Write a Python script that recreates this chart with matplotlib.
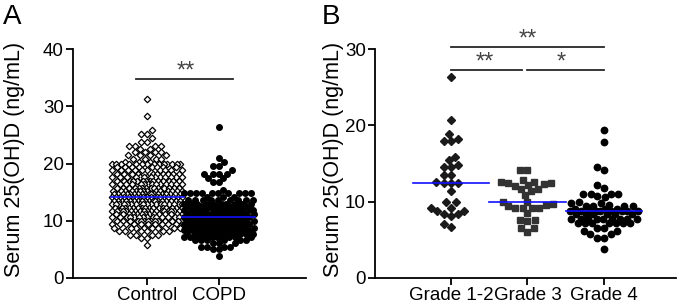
import numpy as np
import matplotlib.pyplot as plt

plt.rcParams['font.family'] = ['Liberation Sans', 'DejaVu Sans']

# panel A: values read row by row (level, number of points)
control_levels = [31.3, 28.3, 25.8, 25.1, 24.4, 23.8, 23.1, 22.6, 22.0, 21.4, 20.8, 20.3,
                  20.0, 19.4, 18.8, 18.2, 17.6, 17.0, 16.4, 15.8, 15.2, 14.6, 14.1, 13.5,
                  12.9, 12.3, 11.7, 11.2, 10.6, 10.0, 9.4, 8.8, 8.2, 7.5, 7.0, 5.8]
control_counts = [1, 1, 1, 2, 1, 2, 4, 2, 4, 4, 4, 3,
                  14, 8, 10, 10, 14, 14, 14, 14, 14, 18, 18, 18,
                  18, 16, 18, 14, 14, 14, 10, 8, 6, 4, 2, 1]
copd_levels = [26.3, 20.9, 20.2, 19.6, 18.8, 18.2, 17.4, 16.7, 15.4, 14.8, 14.2, 13.6,
               12.9, 12.5, 11.9, 11.2, 10.6, 10.0, 9.4, 8.8, 8.3, 7.7, 7.1, 6.6,
               6.1, 5.5, 5.0, 3.85]
copd_counts = [1, 1, 1, 2, 1, 4, 2, 2, 1, 10, 3, 9,
               10, 12, 14, 14, 14, 14, 14, 14, 14, 12, 10, 6,
               3, 4, 2, 1]
groups_a = ['Control', 'COPD']

# panel B
grade12 = [26.3, 20.7, 18.8, 18.2, 17.9, 17.9, 15.8, 15.4, 14.8, 14.5, 14.5, 13.5, 13.5,
           12.6, 12.5, 12.5, 12.4, 11.4, 9.9, 9.9, 9.2, 9.2, 8.8, 8.8, 8.4, 8.4, 8.1,
           7.1, 6.7]
grade3 = [14.2, 14.2, 12.9, 12.6, 12.6, 12.4, 12.4, 12.3, 12.2, 12.0, 11.7, 11.7, 11.4,
          10.9, 10.0, 10.0, 9.7, 9.6, 9.4, 9.2, 9.2, 9.2, 9.2, 8.5, 7.6, 7.6, 7.5,
          6.5, 6.5, 6.0]
grade4 = [19.4, 17.8, 14.6, 14.2, 12.2, 11.8, 11.0, 11.0, 11.0, 11.0, 10.7, 10.6,
          9.9, 9.8, 9.8, 9.5, 9.4, 9.4, 9.4, 9.4, 9.0, 9.0, 9.0,
          8.8, 8.8, 8.8, 8.8, 8.8, 8.8, 8.8, 8.8, 8.8,
          8.4, 8.4, 8.4, 8.4, 8.4, 8.4, 7.7, 7.7, 7.7, 7.7, 7.7, 7.7, 7.7, 7.7, 7.7,
          7.2, 7.2, 7.2, 7.2, 7.2, 7.2, 7.2, 6.5, 6.5, 6.1, 6.1, 5.7, 5.7, 5.3, 5.3, 3.8]
groups_b = ['Grade 1-2', 'Grade 3', 'Grade 4']


def swarm(vals, center, sx, sy, d, halfw):
    # greedy beeswarm in pixel units, squeezed where it would get too wide
    vals = np.asarray(vals, dtype=float)
    px, py = [], []
    xs = np.zeros(len(vals))
    for i in np.argsort(vals, kind='stable'):
        y = vals[i] * sy
        dd = d
        while True:
            near = [(a, b) for a, b in zip(px, py) if abs(b - y) < dd]
            cands = [0.0]
            for a, b in near:
                dx = np.sqrt(dd ** 2 - (b - y) ** 2)
                cands += [a - dx, a + dx]
            cands.sort(key=abs)
            found = None
            for c in cands:
                if abs(c) > halfw:
                    break
                if all((c - a) ** 2 + (y - b) ** 2 >= dd ** 2 - 1e-6 for a, b in near):
                    found = c
                    break
            if found is not None:
                break
            dd *= 0.92
        px.append(found)
        py.append(y)
        xs[i] = center + found / sx
    return xs


def style_axes(ax):
    for side in ['top', 'right']:
        ax.spines[side].set_visible(False)
    for side in ['left', 'bottom']:
        ax.spines[side].set_linewidth(1.3)
    ax.tick_params(axis='both', direction='out', width=1.3, length=5, pad=1.5, labelsize=13.5)


def bracket(ax, x0, x1, y, label, tx):
    ax.plot([x0, x1], [y, y], color='#262626', lw=1.3, clip_on=False)
    ax.text(tx, y + 0.2 * (ax.get_ylim()[1] / 30), label, ha='center', va='baseline',
            fontsize=17, color='#444444', clip_on=False)


fig = plt.figure(figsize=(6.86, 3.07), dpi=100)
axA = fig.add_axes([73 / 686, 29 / 307, 233 / 686, 229 / 307])
axB = fig.add_axes([375 / 686, 29 / 307, 301 / 686, 229 / 307])

# ---- panel A  (71.5 px per group, 5.72 px per ng/mL)
control = np.repeat(control_levels, control_counts)
copd = np.repeat(copd_levels, copd_counts)
x = swarm(control, 0, 71.5, 5.72, 6.0, 35)
axA.plot(x, control, 'D', ms=3.3, mfc='white', mec='black', mew=0.9, ls='none')
x = swarm(copd, 1, 71.5, 5.72, 6.0, 35)
axA.plot(x, copd, 'o', ms=4.0, color='black', ls='none')
for i, d in enumerate([control, copd]):
    axA.plot([i - 0.51, i + 0.51], [np.median(d)] * 2, color='#1010ff', lw=1.2, zorder=5)
axA.set_xlim(-1.035, 2.22)
axA.set_ylim(0, 40)
axA.set_yticks([0, 10, 20, 30, 40])
axA.set_xticks([0, 1])
axA.set_xticklabels(groups_a)
style_axes(axA)
bracket(axA, -0.155, 1.2, 34.8, '**', 0.535)

# ---- panel B  (76.5 px per group, 7.63 px per ng/mL)
x = swarm(grade12, 0, 76.5, 7.63, 7.2, 36)
axB.plot(x, grade12, 'D', ms=3.6, color='#1a1a1a', ls='none')
x = swarm(grade3, 1, 76.5, 7.63, 7.2, 36)
axB.plot(x, grade3, 's', ms=4.4, color='#333333', ls='none')
x = swarm(grade4, 2, 76.5, 7.63, 7.2, 36)
axB.plot(x, grade4, 'o', ms=4.6, color='black', ls='none')
for i, d in enumerate([grade12, grade3, grade4]):
    axB.plot([i - 0.5, i + 0.5], [np.median(d)] * 2, color='#1010ff', lw=1.2, zorder=5)
axB.set_xlim(-0.99, 2.94)
axB.set_ylim(0, 30)
axB.set_yticks([0, 10, 20, 30])
axB.set_xticks([0, 1, 2])
axB.set_xticklabels(groups_b)
style_axes(axB)
bracket(axB, 0, 2, 30.3, '**', 1.0)
bracket(axB, 0, 0.93, 27.3, '**', 0.44)
bracket(axB, 1.0, 2, 27.3, '*', 1.44)

# axis titles and panel letters
lab = 'Serum 25(OH)D (ng/mL)'
fig.text(15 / 686, 1 - 159 / 307, lab, rotation=90, ha='center', va='center', fontsize=15.5)
fig.text(334 / 686, 1 - 159 / 307, lab, rotation=90, ha='center', va='center', fontsize=15.5)
fig.text(3 / 686, 1 - 4 / 307, 'A', ha='left', va='top', fontsize=20)
fig.text(322 / 686, 1 - 4 / 307, 'B', ha='left', va='top', fontsize=20)

fig.savefig('out.png', dpi=100)
